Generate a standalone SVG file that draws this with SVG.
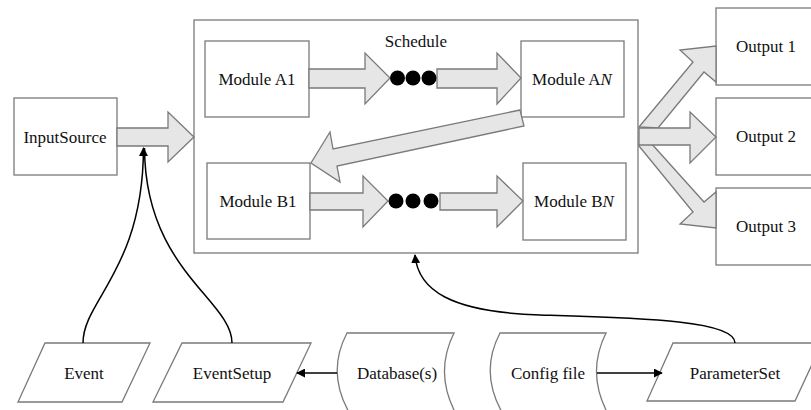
<svg xmlns="http://www.w3.org/2000/svg" width="811" height="410" viewBox="0 0 811 410" font-family="'Liberation Serif', 'DejaVu Serif', serif">
<defs>
<style>
.box{fill:#fff;stroke:#7a7a7a;stroke-width:1.3}
.blk{fill:#e6e6e6;stroke:#7a7a7a;stroke-width:1.3;stroke-linejoin:miter}
.con{fill:none;stroke:#000;stroke-width:1.5}
.dot{fill:#000}
.t{font-family:'Liberation Serif',serif;font-size:17px;fill:#111;text-anchor:middle;dominant-baseline:central}
</style>
<marker id="ah" viewBox="0 0 10 10" refX="9" refY="5" markerWidth="9" markerHeight="9" markerUnits="userSpaceOnUse" orient="auto">
<path d="M0,0 L10,5 L0,10 z" fill="#000"/>
</marker>
</defs>
<rect width="811" height="410" fill="#fff"/>

<g id="schedule">
<rect class="box" x="194" y="20" width="444" height="233"/>
<text class="t" x="416" y="41">Schedule</text>
</g>
<g id="inputsource">
<rect class="box" x="14" y="98" width="103" height="77"/>
<text class="t" x="65" y="137">InputSource</text>
</g>
<g id="moduleA1">
<rect class="box" x="205" y="41" width="104" height="76"/>
<text class="t" x="257" y="79">Module A1</text>
</g>
<g id="moduleAN">
<rect class="box" x="521" y="41" width="103" height="76"/>
<text class="t" x="572" y="79">Module A<tspan font-style="italic">N</tspan></text>
</g>
<g id="moduleB1">
<rect class="box" x="207" y="163" width="103" height="76"/>
<text class="t" x="258" y="201">Module B1</text>
</g>
<g id="moduleBN">
<rect class="box" x="523" y="163" width="103" height="77"/>
<text class="t" x="574" y="201">Module B<tspan font-style="italic">N</tspan></text>
</g>
<g id="output1">
<rect class="box" x="716" y="8" width="110" height="77"/>
<text class="t" x="766" y="46">Output 1</text>
</g>
<g id="output2">
<rect class="box" x="716" y="98" width="110" height="77"/>
<text class="t" x="766" y="136">Output 2</text>
</g>
<g id="output3">
<rect class="box" x="716" y="188" width="110" height="77"/>
<text class="t" x="766" y="226">Output 3</text>
</g>

<g id="event">
<polygon class="box" points="45,343 150,343 122,402 18,402"/>
<text class="t" x="84" y="373">Event</text>
</g>
<g id="eventsetup">
<polygon class="box" points="182,343 311,343 283,402 153,402"/>
<text class="t" x="232" y="373">EventSetup</text>
</g>
<g id="database">
<path class="box" d="M347,333 L454,333 Q434,373 456,414 L350,414 Q326,373 347,333 Z"/>
<text class="t" x="397" y="373">Database(s)</text>
</g>
<g id="configfile">
<path class="box" d="M500,333 L606,333 Q586,373 608,414 L503,414 Q479,373 500,333 Z"/>
<text class="t" x="548" y="373">Config file</text>
</g>
<g id="parameterset">
<polygon class="box" points="673,343 822,343 795,401 647,401"/>
<text class="t" x="735" y="373">ParameterSet</text>
</g>

<g id="connectors">
<polygon class="blk" points="117,128 168,128 168,112 194,137 168,162 168,146 117,146"/>
<polygon class="blk" points="309,69 365,69 365,53 390,78 365,104 365,88 309,88"/>
<polygon class="blk" points="437,69 497,69 497,53 521,78 497,104 497,88 437,88"/>
<polygon class="blk" points="310,193 363,193 363,176 388,201 363,227 363,210 310,210"/>
<polygon class="blk" points="440,193 497,193 497,176 523,201 497,227 497,210 440,210"/>
<polygon class="blk" points="520,110 333,149 330,132 311,163 340,182 337,166 524,126"/>
<polygon class="blk" points="639,127 693,62 680,50 716,46 716,82 704,72 658,128"/>
<polygon class="blk" points="641,132 704,202 716,192 716,228 680,224 693,212 639,146"/>
<polygon class="blk" points="639,128 690,128 690,112 716,137 690,163 690,145 639,145"/>
<circle class="dot" cx="397.5" cy="78" r="7.5"/>
<circle class="dot" cx="413" cy="78" r="7.5"/>
<circle class="dot" cx="429" cy="78" r="7.5"/>
<circle class="dot" cx="396" cy="201" r="7.5"/>
<circle class="dot" cx="413" cy="201" r="7.5"/>
<circle class="dot" cx="431" cy="201" r="7.5"/>
<path class="con" d="M83,343 C83,300 143,270 143.5,148" marker-end="url(#ah)"/>
<path class="con" d="M232,343 C232,300 145,270 144.5,148"/>
<path class="con" d="M735,343 C735,320 640,318 540,315 C450,312 418,290 415,255" marker-end="url(#ah)"/>
<path class="con" d="M337,373 L297,373" marker-end="url(#ah)"/>
<path class="con" d="M597,373 L662,373" marker-end="url(#ah)"/>
</g>
</svg>
